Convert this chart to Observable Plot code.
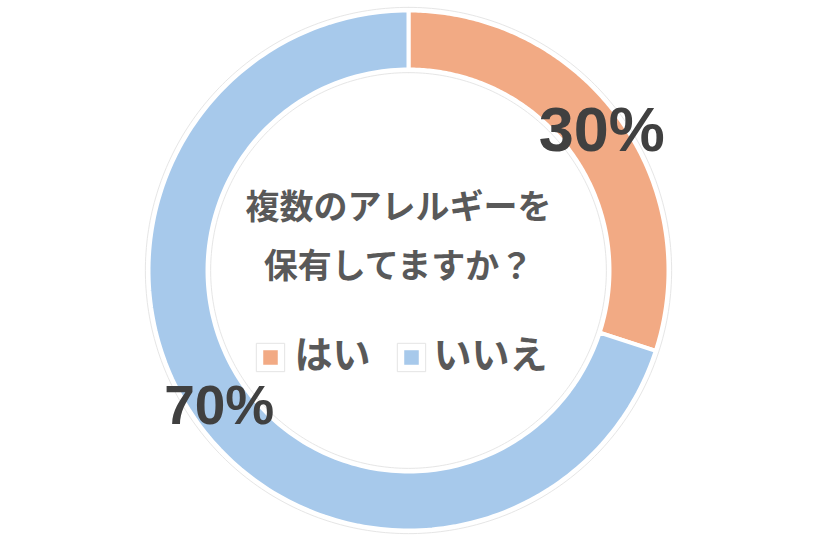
<!DOCTYPE html>
<html>
<head>
<meta charset="utf-8">
<script src="https://cdn.jsdelivr.net/npm/d3@7"></script>
<script src="https://cdn.jsdelivr.net/npm/@observablehq/plot@0.6"></script>
<style>
  html, body { margin: 0; padding: 0; background: #fff; }
  #chart { width: 840px; height: 560px; }
</style>
</head>
<body>
<div id="chart"></div>
<script>
// ---- data ----
const categories = ["はい", "いいえ"];
const values = [30, 70];
const colors = ["#F2AA84", "#A7C9EB"];
const percentLabels = ["30%", "70%"];
const titleLines = ["複数のアレルギーを", "保有してますか？"];

// ---- geometry (unit radius donut) ----
const W = 840, H = 560, R = 260, CX = 408, CY = 270;
const inner = 0.773;
const toX = px => (px - CX) / R;
const toY = py => (CY - py) / R;
const pie = d3.pie().sort(null).value(d => d.value)(categories.map((c, i) => ({cat: c, value: values[i]})));

const ringPts = [];
pie.forEach(p => {
  const n = 200;
  const pts = [];
  for (let k = 0; k <= n; k++) {
    const a = p.startAngle + (p.endAngle - p.startAngle) * k / n;
    pts.push([Math.sin(a), Math.cos(a)]);
  }
  for (let k = n; k >= 0; k--) {
    const a = p.startAngle + (p.endAngle - p.startAngle) * k / n;
    pts.push([inner * Math.sin(a), inner * Math.cos(a)]);
  }
  pts.push(pts[0]);
  pts.forEach(([x, y]) => ringPts.push({cat: p.data.cat, x, y}));
});

// faint outline circles
const outline = [];
[1.012, inner - 0.012].forEach((r, j) => {
  for (let k = 0; k <= 360; k++) {
    const a = k * Math.PI / 180;
    outline.push({ring: j, x: r * Math.sin(a), y: r * Math.cos(a)});
  }
});

const labelPos = pie.map((p, i) => {
  const a = (p.startAngle + p.endAngle) / 2;
  return {text: percentLabels[i], x: 0.9 * Math.sin(a), y: 0.9 * Math.cos(a)};
});

// legend layout (pixel positions converted into data units)
const legendItems = categories.map((c, i) => ({
  cat: c,
  sx: toX([270, 411][i]),
  tx: toX([294, 433][i]),
  sy: toY(357),
  ty: toY(355)
}));

const font = "Noto Sans CJK JP, sans-serif";

const chart = Plot.plot({
  width: W, height: H,
  margin: 0,
  x: {domain: [toX(0), toX(W)], axis: null},
  y: {domain: [toY(H), toY(0)], axis: null},
  color: {domain: categories, range: colors},
  style: {background: "#fff"},
  marks: [
    Plot.line(outline, {x: "x", y: "y", z: "ring", stroke: "#e6e6e6", strokeWidth: 1}),
    Plot.line(ringPts, {x: "x", y: "y", z: "cat", fill: "cat", stroke: "#fff", strokeWidth: 4, curve: "linear"}),
    Plot.text([labelPos[0]], {x: "x", y: "y", text: "text", fontSize: 63, fontWeight: "bold", fill: "#404040",
      fontFamily: "Liberation Sans, Arial, sans-serif", dx: 4, dy: -2}),
    Plot.text([labelPos[1]], {x: "x", y: "y", text: "text", fontSize: 55, fontWeight: "bold", fill: "#404040",
      fontFamily: "Liberation Sans, Arial, sans-serif", dy: -2}),
    Plot.text([titleLines.join("\n")], {x: () => 0, y: () => 0, text: d => d, fontSize: 34, fill: "#595959",
      fontWeight: "bold", lineHeight: 1.74, dx: -10, dy: -41, letterSpacing: "4px",
      fontFamily: font}),
    // legend
    Plot.dot(legendItems, {x: "sx", y: "sy", symbol: "square", r: 16, fill: "#fff", stroke: "#e4e4e4", strokeWidth: 1}),
    Plot.dot(legendItems, {x: "sx", y: "sy", symbol: "square", r: 8.2, fill: "cat"}),
    Plot.text(legendItems, {x: "tx", y: "ty", text: "cat", textAnchor: "start", fontSize: 38, fontWeight: "bold",
      fill: "#595959", letterSpacing: "2px", fontFamily: font})
  ]
});

document.getElementById("chart").append(chart);
</script>
</body>
</html>
